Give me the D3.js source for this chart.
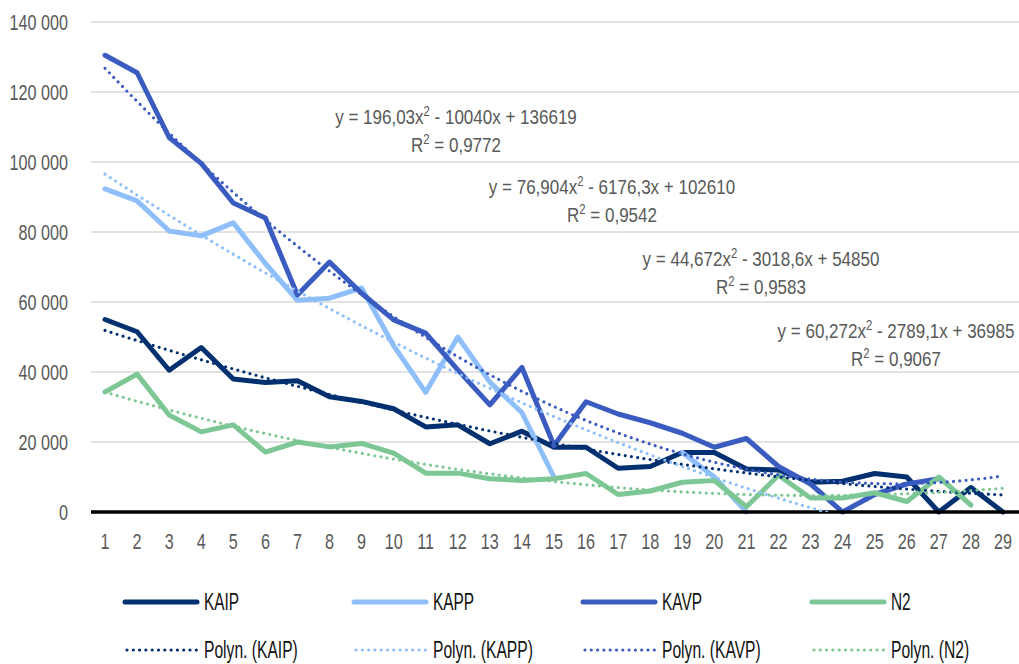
<!DOCTYPE html>
<html><head><meta charset="utf-8">
<script src="https://cdn.jsdelivr.net/npm/d3@7"></script>
<style>
body{margin:0;background:#fff}
svg{display:block}
text{font-family:"Liberation Sans",Arial,sans-serif}
</style>
</head><body>
<svg id="c" width="1019" height="664"></svg>
<script>
// ---------- data ----------
const categories = [1,2,3,4,5,6,7,8,9,10,11,12,13,14,15,16,17,18,19,20,21,22,23,24,25,26,27,28,29];
const yTickValues = [0,20000,40000,60000,80000,100000,120000,140000];
const yTickLabels = ["0","20 000","40 000","60 000","80 000","100 000","120 000","140 000"];

const seriesNames = ["KAIP","KAPP","KAVP","N2"];
const KAIP = [55000,51500,40500,47000,38000,37000,37500,32900,31600,29500,24300,24900,19500,23100,18500,18500,12500,13000,17000,17000,12300,12000,8500,8800,11000,10000,0,7000,0];
const KAPP = [92300,88900,80300,78900,82600,71000,60500,61100,64000,47500,34200,50000,37100,28400,10000,null,null,null,17000,10000,0,null,null,null,null,null,null,null,null];
const KAVP = [130500,125500,107000,99600,88300,84000,62000,71400,62500,54900,51100,40600,30600,41300,19000,31500,28000,25500,22500,18500,21000,13000,8000,0,5000,8000,9500,null,null];
const N2   = [34300,39400,27700,22900,24900,17100,20000,18600,19600,16800,11100,11100,9500,9000,9500,11000,5000,6000,8500,9000,1500,10500,4000,4000,5500,3000,10000,2000,null];
const seriesValues = [KAIP,KAPP,KAVP,N2];
const seriesColors = ["#003070","#8ebffa","#3a5cc0","#7dc795"];

// polynomial trendline coefficients [a, b, c] for y = a x^2 + b x + c
const trendKAIP = [44.672,-3018.6,54850];
const trendKAPP = [76.904,-6176.3,102610];
const trendKAVP = [196.03,-10040,136619];
const trendN2   = [60.272,-2789.1,36985];
const trendCoefs = [trendKAIP,trendKAPP,trendKAVP,trendN2];

// equation labels: text before superscript, text after superscript, R² value
const eqPre  = ["y = 44,672x","y = 76,904x","y = 196,03x","y = 60,272x"];
const eqPost = [" - 3018,6x + 54850"," - 6176,3x + 102610"," - 10040x + 136619"," - 2789,1x + 36985"];
const r2Vals = ["0,9583","0,9542","0,9772","0,9067"];

// ---------- layout ----------
const svg = d3.select("#c");
const plotL = 89, plotR = 1019, plotT = 22, plotB = 512;
const x = d3.scaleBand().domain(categories).range([plotL, plotR]).padding(0);
const xc = d => x(d) + x.bandwidth()/2;
const xLin = d3.scaleLinear().domain([0.5, 29.5]).range([plotL, plotR]);
const y = d3.scaleLinear().domain([0,140000]).range([plotB, plotT]);

const gray = "#595959";

// helper: horizontally condensed text placed at (px,py)
function condense(sel, px, py, sx) {
  sel.attr("x", 0).attr("y", 0).attr("transform", `translate(${px},${py}) scale(${sx},1)`);
  return sel;
}

// gridlines
svg.append("g").selectAll("line").data(yTickValues.filter(v=>v>0)).join("line")
  .attr("x1", plotL+2).attr("x2", plotR).attr("y1", d=>y(d)).attr("y2", d=>y(d))
  .attr("stroke", "#d9d9d9").attr("stroke-width", 1.5);

// y axis labels
const yAxis = d3.axisLeft(y).tickValues(yTickValues).tickSize(0).tickPadding(0)
  .tickFormat((d,i)=>yTickLabels[i]);
const gy = svg.append("g").attr("transform", `translate(${68},0)`).call(yAxis);
gy.select(".domain").remove();
gy.selectAll("text").attr("fill", gray).style("font-size","22px")
  .style("font-family",'"Liberation Sans",Arial,sans-serif')
  .attr("x",0).attr("dy","0.36em").attr("transform","scale(0.735,1)");

// x axis labels
const xAxis = d3.axisBottom(x).tickSize(0).tickPadding(0);
const gx = svg.append("g").attr("transform", `translate(0,${plotB})`).call(xAxis);
gx.select(".domain").remove();
gx.selectAll("text").attr("fill", gray).style("font-size","22px")
  .style("font-family",'"Liberation Sans",Arial,sans-serif')
  .attr("y", 29).attr("dy","0.36em").attr("transform","scale(0.735,1)");

// clip
svg.append("defs").append("clipPath").attr("id","clip").append("rect")
  .attr("x", plotL).attr("y", 0).attr("width", plotR-plotL).attr("height", plotB);

// series lines
const line = d3.line().defined(d => d.v !== null).x(d => xc(d.c)).y(d => y(d.v));
const gs = svg.append("g");
seriesValues.forEach((vals,i) => {
  const pts = categories.map((c,j)=>({c, v: vals[j]}));
  gs.append("path").datum(pts).attr("d", line)
    .attr("fill","none").attr("stroke", seriesColors[i]).attr("stroke-width", 5)
    .attr("stroke-linejoin","round").attr("stroke-linecap","round");
});

// x axis line
svg.append("line").attr("x1", plotL+2).attr("x2", plotR).attr("y1", plotB).attr("y2", plotB)
  .attr("stroke", "#000").attr("stroke-width", 3.5);

// trendlines
const gt = svg.append("g").attr("clip-path","url(#clip)");
const tline = d3.line().x(d => xLin(d[0])).y(d => y(d[1]));
trendCoefs.forEach((co,i) => {
  const pts = [];
  for (let t = 1; t <= 29.0001; t += 0.05) pts.push([t, co[0]*t*t + co[1]*t + co[2]]);
  gt.append("path").datum(pts).attr("d", tline)
    .attr("fill","none").attr("stroke", seriesColors[i]).attr("stroke-width", 3.2)
    .attr("stroke-dasharray","0 6.3").attr("stroke-linecap","round");
});

// equation labels
const eqCx = [761, 612, 456, 896];
const eqBase = [266, 194, 124, 338];
const gl = svg.append("g").attr("fill", gray).style("font-size","21px");
eqPre.forEach((p,i) => {
  const t = condense(gl.append("text").attr("text-anchor","middle"), eqCx[i], eqBase[i], 0.81);
  t.append("tspan").text(p);
  t.append("tspan").attr("dy",-8).style("font-size","14px").text("2");
  t.append("tspan").attr("dy",8).text(eqPost[i]);
  const r = condense(gl.append("text").attr("text-anchor","middle"), eqCx[i], eqBase[i]+28, 0.81);
  r.append("tspan").text("R");
  r.append("tspan").attr("dy",-8).style("font-size","14px").text("2");
  r.append("tspan").attr("dy",8).text(" = " + r2Vals[i]);
});

// legend
const legX = [125, 354, 583, 812];
const legY1 = 602, legY2 = 650;
const gLeg = svg.append("g").style("font-size","23px").attr("fill","#111");
seriesNames.forEach((n,i) => {
  gLeg.append("line").attr("x1", legX[i]).attr("x2", legX[i]+72).attr("y1", legY1).attr("y2", legY1)
    .attr("stroke", seriesColors[i]).attr("stroke-width", 5).attr("stroke-linecap","round");
  condense(gLeg.append("text").attr("dy","0.36em").text(n), legX[i]+79, legY1, 0.67);
  gLeg.append("line").attr("x1", legX[i]+2).attr("x2", legX[i]+72).attr("y1", legY2).attr("y2", legY2)
    .attr("stroke", seriesColors[i]).attr("stroke-width", 3.2)
    .attr("stroke-dasharray","0 6.3").attr("stroke-linecap","round");
  condense(gLeg.append("text").attr("dy","0.36em").text("Polyn. (" + n + ")"), legX[i]+79, legY2, 0.68);
});
</script>
</body></html>
